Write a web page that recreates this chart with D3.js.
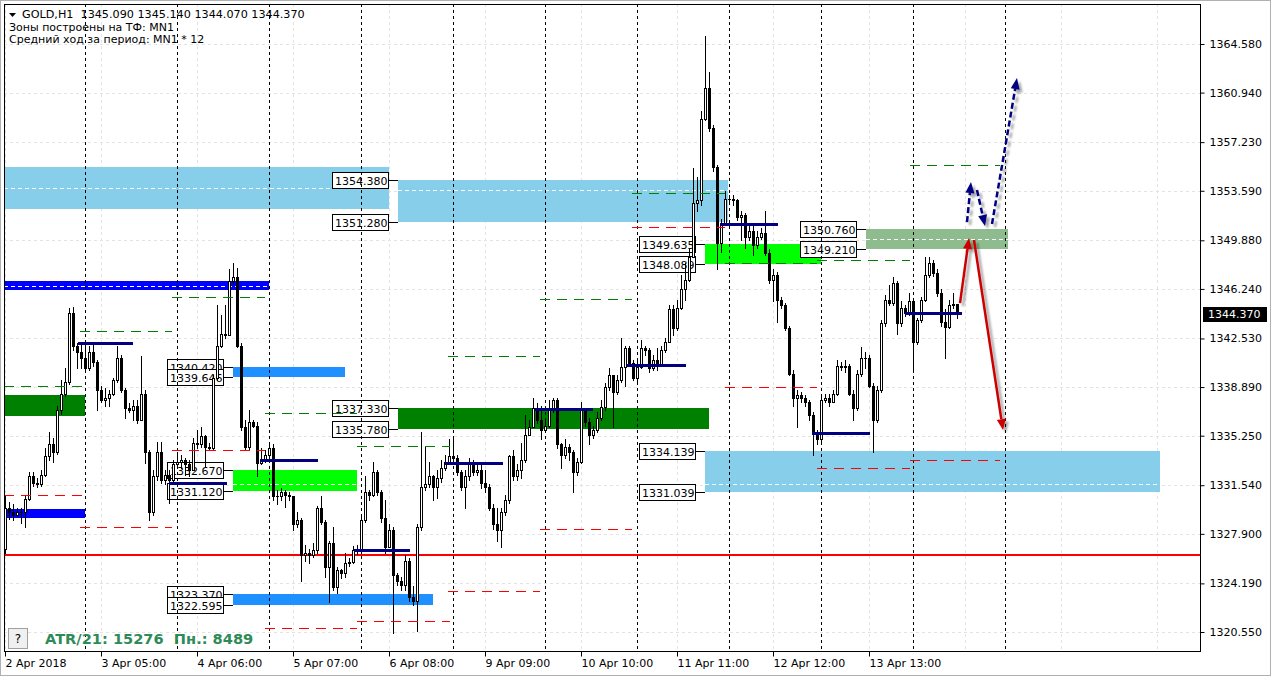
<!DOCTYPE html>
<html><head><meta charset="utf-8">
<script src="https://cdn.jsdelivr.net/npm/d3@7"></script>
<style>
html,body{margin:0;padding:0;background:#fff;}
svg{display:block;}
text{font-family:"DejaVu Sans",sans-serif;}
</style></head><body>
<svg id="chart" width="1271" height="676"></svg>
<script>
// ---------- DATA ----------
const firstOpen = 1326.8;
const closes = [
1329.8,1329.5,1329.3,1329.5,1329.5,1330.5,1332.2,1331.7,1331.6,1332.3,
1333.7,1334.6,1334.0,1337.2,1338.4,1339.3,1344.4,1342.0,1341.5,1341.1,
1340.3,1341.5,1340.8,1338.7,1337.9,1338.1,1338.4,1339.4,1341.1,1338.7,
1337.3,1337.2,1337.5,1336.4,1338.4,1334.0,1329.5,1332.2,1334.0,1331.9,
1332.3,1331.9,1333.1,1333.3,1333.4,1333.1,1332.7,1334.7,1334.6,1335.2,
1334.4,1334.3,1339.6,1342.0,1342.9,1342.8,1346.8,1347.1,1342.0,1335.9,
1334.4,1336.3,1336.0,1333.2,1333.4,1333.8,1334.3,1330.7,1330.7,1331.0,
1330.8,1330.7,1328.6,1328.9,1326.3,1326.5,1326.3,1326.7,1329.8,1328.8,
1325.4,1327.2,1323.9,1325.2,1325.0,1325.7,1325.8,1326.7,1326.8,1328.9,
1331.0,1330.8,1332.5,1331.0,1329.1,1326.9,1328.2,1324.8,1324.4,1324.1,
1325.9,1323.2,1322.9,1328.4,1331.4,1331.6,1332.2,1331.4,1332.1,1332.8,
1333.3,1333.7,1333.6,1332.5,1331.4,1332.2,1333.2,1332.5,1332.7,1331.7,
1331.4,1329.8,1328.6,1328.2,1329.5,1330.4,1333.7,1332.2,1332.7,1333.4,
1335.3,1335.9,1337.3,1336.4,1335.7,1336.0,1337.2,1337.9,1334.6,1333.8,
1334.4,1334.0,1332.5,1333.3,1337.2,1336.3,1335.3,1335.7,1336.6,1337.4,
1338.9,1339.8,1338.5,1339.4,1340.4,1341.8,1340.7,1339.6,1340.4,1341.8,
1341.7,1340.3,1340.9,1340.5,1341.7,1342.3,1344.7,1343.3,1344.8,1346.2,
1346.9,1348.6,1352.7,1352.9,1359.0,1361.3,1358.3,1355.4,1349.7,1351.2,
1353.0,1353.0,1352.9,1351.6,1351.8,1350.1,1350.6,1349.5,1350.1,1350.4,
1348.9,1346.9,1347.3,1345.4,1345.0,1343.3,1339.9,1338.1,1338.3,1338.1,
1337.8,1336.8,1335.5,1335.0,1337.9,1338.1,1337.8,1338.4,1340.5,1340.4,
1340.5,1338.4,1337.3,1339.9,1341.1,1341.1,1339.0,1336.4,1338.7,1343.7,
1345.4,1345.2,1346.7,1343.7,1344.8,1344.4,1345.3,1342.3,1343.9,1345.4,
1347.3,1348.2,1347.4,1345.9,1343.8,1343.4,1345.0,1345.09,1344.37];
const highs = [
1330.7,1330.3,1330.1,1329.8,1329.8,1330.7,1332.5,1332.5,1332.1,1332.7,
1334.3,1335.5,1335.1,1337.5,1339.4,1340.3,1344.8,1344.9,1342.2,1342.2,
1342.2,1342.0,1342.2,1340.9,1339.0,1338.8,1338.7,1339.6,1342.0,1341.3,
1338.8,1337.7,1337.9,1337.9,1341.2,1338.7,1334.2,1332.7,1334.8,1334.8,
1332.7,1332.7,1333.4,1334.0,1333.8,1333.6,1333.4,1335.1,1335.7,1335.9,
1335.3,1334.7,1339.8,1345.0,1344.3,1345.0,1347.7,1348.2,1347.8,1342.2,
1336.4,1337.2,1336.4,1336.3,1334.3,1334.2,1334.6,1334.6,1331.2,1331.3,
1331.2,1331.0,1330.7,1329.5,1329.1,1327.1,1326.8,1327.2,1330.0,1330.7,
1328.9,1327.4,1328.4,1325.4,1325.3,1326.5,1326.1,1327.0,1327.1,1329.3,
1332.2,1331.2,1333.3,1332.7,1331.2,1330.4,1328.6,1328.4,1325.0,1324.7,
1326.3,1326.1,1324.0,1328.6,1335.5,1334.4,1333.3,1332.3,1332.7,1333.4,
1333.8,1335.0,1335.0,1333.8,1332.7,1332.7,1333.6,1333.4,1333.1,1333.3,
1332.7,1331.6,1330.1,1329.8,1329.8,1330.8,1333.8,1334.2,1333.1,1334.7,
1336.8,1336.4,1338.1,1337.7,1337.5,1336.6,1337.9,1338.1,1338.1,1334.7,
1335.0,1334.6,1334.2,1333.6,1337.8,1337.3,1336.6,1336.0,1337.0,1337.9,
1339.2,1340.3,1339.8,1339.8,1342.6,1342.0,1342.0,1340.9,1340.9,1342.4,
1342.0,1341.8,1341.3,1341.8,1342.0,1342.6,1345.0,1345.0,1345.4,1347.3,
1348.2,1349.2,1355.3,1354.6,1359.6,1365.2,1362.5,1358.5,1355.5,1351.5,
1353.6,1353.3,1353.3,1353.0,1352.1,1351.9,1351.0,1351.2,1350.6,1350.8,
1352.1,1349.2,1347.7,1347.5,1345.6,1345.2,1343.5,1340.2,1338.7,1338.5,
1338.3,1337.9,1337.0,1335.7,1338.3,1338.4,1338.4,1338.7,1340.9,1340.8,
1340.9,1340.6,1338.7,1340.2,1341.9,1341.5,1341.3,1339.2,1339.0,1343.9,
1345.8,1346.5,1347.1,1346.8,1345.3,1345.0,1345.9,1345.4,1344.1,1345.6,
1348.6,1348.6,1348.4,1347.7,1346.2,1344.7,1345.4,1345.9,1345.14];
const lows = [
1326.5,1329.0,1328.9,1329.2,1328.7,1328.4,1330.4,1331.5,1331.4,1331.5,
1332.2,1333.4,1333.3,1333.9,1336.9,1338.2,1339.1,1341.7,1340.3,1340.3,
1340.2,1340.2,1340.5,1337.2,1337.8,1337.5,1337.5,1338.3,1339.3,1338.5,
1336.6,1337.0,1336.4,1336.2,1337.5,1333.2,1328.9,1329.3,1331.9,1331.7,
1331.6,1330.2,1331.8,1332.8,1332.8,1332.3,1332.2,1332.7,1334.3,1334.4,
1332.9,1334.2,1334.2,1339.4,1341.9,1342.6,1342.8,1346.6,1341.9,1335.7,
1334.2,1334.2,1335.9,1332.2,1333.1,1333.3,1333.4,1330.4,1330.1,1330.4,
1329.9,1330.4,1328.2,1328.4,1324.4,1325.9,1325.7,1326.2,1326.5,1328.6,
1324.7,1322.8,1323.7,1323.5,1324.6,1324.7,1325.5,1325.7,1326.4,1326.5,
1328.8,1330.4,1330.7,1330.8,1328.8,1326.5,1327.4,1320.5,1324.1,1323.7,
1323.7,1322.9,1322.6,1320.6,1328.2,1331.2,1331.4,1330.4,1330.6,1331.8,
1332.7,1333.2,1333.3,1332.3,1331.2,1329.8,1331.9,1332.3,1332.3,1331.3,
1331.0,1329.7,1328.3,1327.4,1326.9,1329.3,1330.2,1331.9,1331.9,1332.1,
1333.3,1335.3,1335.9,1336.2,1335.0,1335.5,1335.9,1337.0,1334.3,1332.8,
1333.6,1333.4,1331.0,1332.3,1333.2,1336.0,1334.6,1335.1,1335.5,1336.4,
1337.2,1338.7,1335.9,1338.4,1339.3,1339.0,1340.5,1339.4,1339.2,1340.3,
1341.3,1340.0,1340.2,1340.2,1340.5,1341.5,1342.3,1342.8,1343.2,1344.7,
1345.4,1346.8,1348.6,1352.1,1352.5,1358.9,1358.1,1355.1,1347.7,1349.0,
1351.0,1352.7,1352.5,1351.4,1349.9,1349.3,1349.9,1348.8,1349.3,1350.0,
1348.8,1346.7,1345.3,1343.8,1344.8,1343.2,1339.8,1337.5,1335.9,1337.8,
1337.5,1336.4,1333.8,1334.6,1334.8,1337.8,1337.5,1337.9,1338.3,1340.2,
1340.0,1338.3,1336.4,1337.2,1339.7,1340.3,1338.9,1334.0,1336.3,1338.5,
1343.5,1345.0,1345.0,1342.9,1343.5,1344.2,1344.3,1340.0,1342.1,1343.8,
1345.3,1347.1,1347.2,1345.7,1343.5,1341.1,1343.3,1344.8,1344.07];

const priceTicks = [1364.580,1360.940,1357.230,1353.590,1349.880,1346.240,1342.530,1338.890,1335.250,1331.540,1327.900,1324.190,1320.550];
const timeLabels = ["2 Apr 2018","3 Apr 05:00","4 Apr 06:00","5 Apr 07:00","6 Apr 08:00","9 Apr 09:00","10 Apr 10:00","11 Apr 11:00","12 Apr 12:00","13 Apr 13:00"];
const timeLabelBars = [0,24,48,72,96,120,144,168,192,216];
const gridBars = [0,24,48,72,96,120,144,168,192,216,240,264,288];
const daySeparatorBars = [20,43,66,89,112,135,158,181,204,227,250];

// zones (bar range, price range)
const zoneKinds = ["sky","sky","blue","blue","dark","dark","dodger","dodger","lime","lime","sage","sky"];
const zoneFrom  = [-0.25,98.25,-0.25,-0.25,-0.25,98.25,57,57,57,175,215.25,175];
const zoneTo    = [96,180.75,66,20,20,176,85,107,88,204,250.75,288.75];
const zoneHigh  = [1355.35,1354.380,1346.83,1329.76,1338.29,1337.330,1340.420,1323.370,1332.670,1349.635,1350.760,1334.139];
const zoneLow   = [1352.25,1351.280,1346.15,1329.08,1336.72,1335.780,1339.646,1322.595,1331.120,1348.089,1349.210,1331.039];
const zoneMid   = [1353.79,1353.64,1346.45,null,null,null,null,null,1331.63,null,1349.97,1331.63];
const zoneLabeled = [false,true,false,false,false,true,true,true,true,true,true,true];

// daily open lines (navy)
const navyPrice = [1342.19,1331.70,1333.43,1326.69,1333.20,1337.25,1340.54,1351.10,1335.45,1344.43];
const navyFrom  = [18.25,41,63.75,87.25,110,132.5,155.5,178.75,201.75,225];
const navyTo    = [32,55.5,78.25,101.25,124.5,147,170.25,193.25,216.25,239.25];

// dashed daily levels
const greenPrice = [1338.97,1343.09,1345.63,1336.95,1334.47,1341.21,1345.48,1353.42,1348.18,1348.40,1355.52];
const greenFrom  = [-0.25,18.75,41.75,65,88,110.75,133.75,156.75,180,203,226.25];
const greenTo    = [19.25,41.75,65,88,111.25,133.75,156.75,180,203,226.25,248.75];
const redPrice   = [1330.80,1328.41,1334.17,1320.85,1321.37,1323.62,1328.26,1350.87,1338.89,1332.83,1333.43];
const redFrom    = [-0.25,18.75,41.75,65,88,110.75,133.75,156.75,180,203,226.25];
const redTo      = [19.25,41.75,65,88,111.25,133.75,156.75,180,203,226.25,248.75];
const supportLevel = 1326.31;

// forecast arrows
const arrowKinds = ["red","red","navy","navy","navy"];
const arrowBar0  = [238.75,242.25,240.5,243,246.75];
const arrowP0    = [1345.18,1349.90,1351.25,1353.64,1351.10];
const arrowBar1  = [241,249.5,241.5,245,253];
const arrowP1    = [1350.05,1335.67,1354.24,1350.95,1362.03];

const headerLine = "GOLD,H1  1345.090 1345.140 1344.070 1344.370";
const infoLines = ["Зоны построены на ТФ: MN1","Средний ход за период: MN1 * 12"];
const atrText = "ATR/21: 15276  Пн.: 8489";
const lastPrice = 1344.370;
const lastOpen = 1345.09;

// ---------- STYLES ----------
const zoneColor = {sky:"#87CEEB",blue:"#0000FF",dodger:"#1E90FF",dark:"#008000",lime:"#00FF00",sage:"#8FBC8F"};
const arrowColor = {red:"#CC0000",navy:"#000080"};

// ---------- DRAW ----------
const svg = d3.select("#chart");
const L = 4, R = 1200, T = 4, B = 651;
const x = d3.scaleLinear().domain([0,298.75]).range([5,1200]);
const y = d3.scaleLinear().domain([1320.55,1364.58]).range([632,44]);

svg.append("rect").attr("width",1271).attr("height",676).attr("fill","#fff");
svg.append("rect").attr("x",0.5).attr("y",0.5).attr("width",1270).attr("height",675)
  .attr("fill","none").attr("stroke","#b0b0b0");

const defs = svg.append("defs");
defs.append("clipPath").attr("id","plot").append("rect").attr("x",L).attr("y",T).attr("width",R-L).attr("height",B-T);
const f = defs.append("filter").attr("id","shadow").attr("x","-50%").attr("y","-50%").attr("width","200%").attr("height","200%");
f.append("feDropShadow").attr("dx",3).attr("dy",3).attr("stdDeviation",1.3).attr("flood-color","#000").attr("flood-opacity",0.35);

const plot = svg.append("g").attr("clip-path","url(#plot)");

// grid
plot.append("g").selectAll("line").data(priceTicks).join("line")
  .attr("x1",L).attr("x2",R).attr("y1",d=>Math.round(y(d))+0.5).attr("y2",d=>Math.round(y(d))+0.5)
  .attr("stroke","#e3e3e3").attr("stroke-dasharray","3,3");
plot.append("g").selectAll("line").data(gridBars).join("line")
  .attr("x1",d=>Math.round(x(d))+0.5).attr("x2",d=>Math.round(x(d))+0.5).attr("y1",T).attr("y2",B)
  .attr("stroke","#e3e3e3").attr("stroke-dasharray","3,3");

// zones
const zi = d3.range(zoneKinds.length);
plot.append("g").selectAll("rect").data(zi).join("rect")
  .attr("x",i=>Math.round(x(zoneFrom[i])))
  .attr("width",i=>Math.round(x(zoneTo[i]))-Math.round(x(zoneFrom[i])))
  .attr("y",i=>Math.round(y(zoneHigh[i])))
  .attr("height",i=>Math.round(y(zoneLow[i]))-Math.round(y(zoneHigh[i])))
  .attr("fill",i=>zoneColor[zoneKinds[i]]);
plot.append("g").selectAll("line").data(zi.filter(i=>zoneMid[i]!==null)).join("line")
  .attr("x1",i=>x(zoneFrom[i])).attr("x2",i=>x(zoneTo[i]))
  .attr("y1",i=>Math.round(y(zoneMid[i]))+0.5).attr("y2",i=>Math.round(y(zoneMid[i]))+0.5)
  .attr("stroke","#fff").attr("stroke-dasharray","4,3");

// labels for zones
const labG = plot.append("g");
zi.filter(i=>zoneLabeled[i]).forEach(i=>{
  [zoneHigh[i],zoneLow[i]].forEach(p=>{
    const zx = Math.round(x(zoneFrom[i]));
    const py = Math.round(y(p))+0.5;
    const bw = 56, bh = 16, br = zx-10;
    labG.append("line").attr("x1",br).attr("x2",zx).attr("y1",py).attr("y2",py).attr("stroke","#000");
    labG.append("rect").attr("x",br-bw+0.5).attr("y",py-bh/2).attr("width",bw).attr("height",bh)
      .attr("fill","#fff").attr("stroke","#000");
    labG.append("text").attr("x",br-bw+3).attr("y",py+4.5).attr("font-size",11).attr("fill","#000")
      .text(p.toFixed(3));
  });
});

// day separators
plot.append("g").selectAll("line").data(daySeparatorBars).join("line")
  .attr("x1",d=>Math.round(x(d))+0.5).attr("x2",d=>Math.round(x(d))+0.5).attr("y1",T).attr("y2",B)
  .attr("stroke","#000").attr("stroke-dasharray","3,3");

// support line
plot.append("line").attr("x1",L).attr("x2",R).attr("y1",y(supportLevel)).attr("y2",y(supportLevel))
  .attr("stroke","#FF0000").attr("stroke-width",2);

// candles
const bars = closes.map((c,i)=>({i, o: i===0?firstOpen:(i===closes.length-1?lastOpen:closes[i-1]), h:highs[i], l:lows[i], c}));
const cg = plot.append("g");
bars.forEach(b=>{
  const X = Math.round(x(b.i));
  const hi = Math.max(b.h,b.o,b.c), lo = Math.min(b.l,b.o,b.c);
  cg.append("line").attr("x1",X+0.5).attr("x2",X+0.5).attr("y1",Math.round(y(hi))).attr("y2",Math.round(y(lo))+1)
    .attr("stroke","#000");
  const top = Math.round(y(Math.max(b.o,b.c))), bot = Math.round(y(Math.min(b.o,b.c)));
  if (bot-top < 1) {
    cg.append("line").attr("x1",X-1).attr("x2",X+2).attr("y1",top+0.5).attr("y2",top+0.5).attr("stroke","#000");
  } else {
    cg.append("rect").attr("x",X-0.5).attr("y",top+0.5).attr("width",2).attr("height",bot-top)
      .attr("fill",b.c>=b.o?"#fff":"#000").attr("stroke","#000");
  }
});

// dashed daily levels
const dg = plot.append("g");
greenPrice.forEach((p,i)=>{
  dg.append("line").attr("x1",x(greenFrom[i])).attr("x2",x(greenTo[i]))
    .attr("y1",Math.round(y(p))+0.5).attr("y2",Math.round(y(p))+0.5)
    .attr("stroke","#008000").attr("stroke-dasharray","10,7");
});
redPrice.forEach((p,i)=>{
  dg.append("line").attr("x1",x(redFrom[i])).attr("x2",x(redTo[i]))
    .attr("y1",Math.round(y(p))+0.5).attr("y2",Math.round(y(p))+0.5)
    .attr("stroke","#FF0000").attr("stroke-dasharray","10,7");
});

// navy lines
navyPrice.forEach((p,i)=>{
  plot.append("line").attr("x1",x(navyFrom[i])).attr("x2",x(navyTo[i]))
    .attr("y1",Math.round(y(p))+0.5).attr("y2",Math.round(y(p))+0.5)
    .attr("stroke","#000080").attr("stroke-width",3);
});

// arrows
const ag = plot.append("g").attr("filter","url(#shadow)");
arrowKinds.forEach((k,i)=>{
  const x0=x(arrowBar0[i]), y0=y(arrowP0[i]), x1=x(arrowBar1[i]), y1=y(arrowP1[i]);
  const ang = Math.atan2(y1-y0,x1-x0), HL=11, HW=4.5;
  const bx = x1-HL*Math.cos(ang), by = y1-HL*Math.sin(ang);
  ag.append("line").attr("x1",x0).attr("y1",y0).attr("x2",bx).attr("y2",by)
    .attr("stroke",arrowColor[k]).attr("stroke-width",2.5)
    .attr("stroke-dasharray",k==="navy"?"6,3":null);
  ag.append("path").attr("d",`M${x1},${y1}L${bx+HW*Math.sin(ang)},${by-HW*Math.cos(ang)}L${bx-HW*Math.sin(ang)},${by+HW*Math.cos(ang)}Z`)
    .attr("fill",arrowColor[k]);
});

// frame
svg.append("rect").attr("x",L+0.5).attr("y",T+0.5).attr("width",R-L).attr("height",B-T)
  .attr("fill","none").attr("stroke","#000");

// right axis
const ra = svg.append("g").attr("transform",`translate(${R+0.5},0)`)
  .call(d3.axisRight(y).tickValues(priceTicks).tickSize(4).tickPadding(5).tickFormat(d=>d.toFixed(3)));
ra.select(".domain").remove();
ra.selectAll("text").attr("font-size",11).attr("font-family","DejaVu Sans").attr("fill","#000");

// bottom axis
const ba = svg.append("g").attr("transform",`translate(0,${B+0.5})`)
  .call(d3.axisBottom(x).tickValues(timeLabelBars).tickSize(5).tickPadding(3).tickFormat((d,i)=>timeLabels[i]));
ba.select(".domain").remove();
ba.selectAll("text").attr("font-size",11).attr("font-family","DejaVu Sans").attr("fill","#000")
  .attr("text-anchor","start").attr("dx",0);

// last price marker
const ly = Math.round(y(lastPrice));
svg.append("rect").attr("x",R+3).attr("y",ly-7).attr("width",64).attr("height",15).attr("fill","#000");
svg.append("text").attr("x",R+8).attr("y",ly+4).attr("font-size",11).attr("fill","#fff").text(lastPrice.toFixed(3));

// header
svg.append("path").attr("d","M9,13L16,13L12.5,17Z").attr("fill","#000");
svg.append("text").attr("x",22).attr("y",18).attr("font-size",11.2).attr("fill","#000")
  .attr("xml:space","preserve").style("white-space","pre").text(headerLine);
infoLines.forEach((t,i)=>{
  svg.append("text").attr("x",9).attr("y",31+i*12).attr("font-size",11).attr("fill","#000").text(t);
});

// bottom-left info
svg.append("rect").attr("x",8.5).attr("y",628.5).attr("width",19).attr("height",20).attr("fill","#f0f0f0").attr("stroke","#a0a0a0");
svg.append("text").attr("x",18).attr("y",643).attr("text-anchor","middle").attr("font-size",12).attr("fill","#000").text("?");
svg.append("text").attr("x",45).attr("y",644).attr("font-family","Liberation Sans, Arial, sans-serif")
  .attr("font-size",14.6).attr("font-weight","bold").attr("fill","#2E8B57")
  .style("white-space","pre").text(atrText);
</script>
</body></html>
